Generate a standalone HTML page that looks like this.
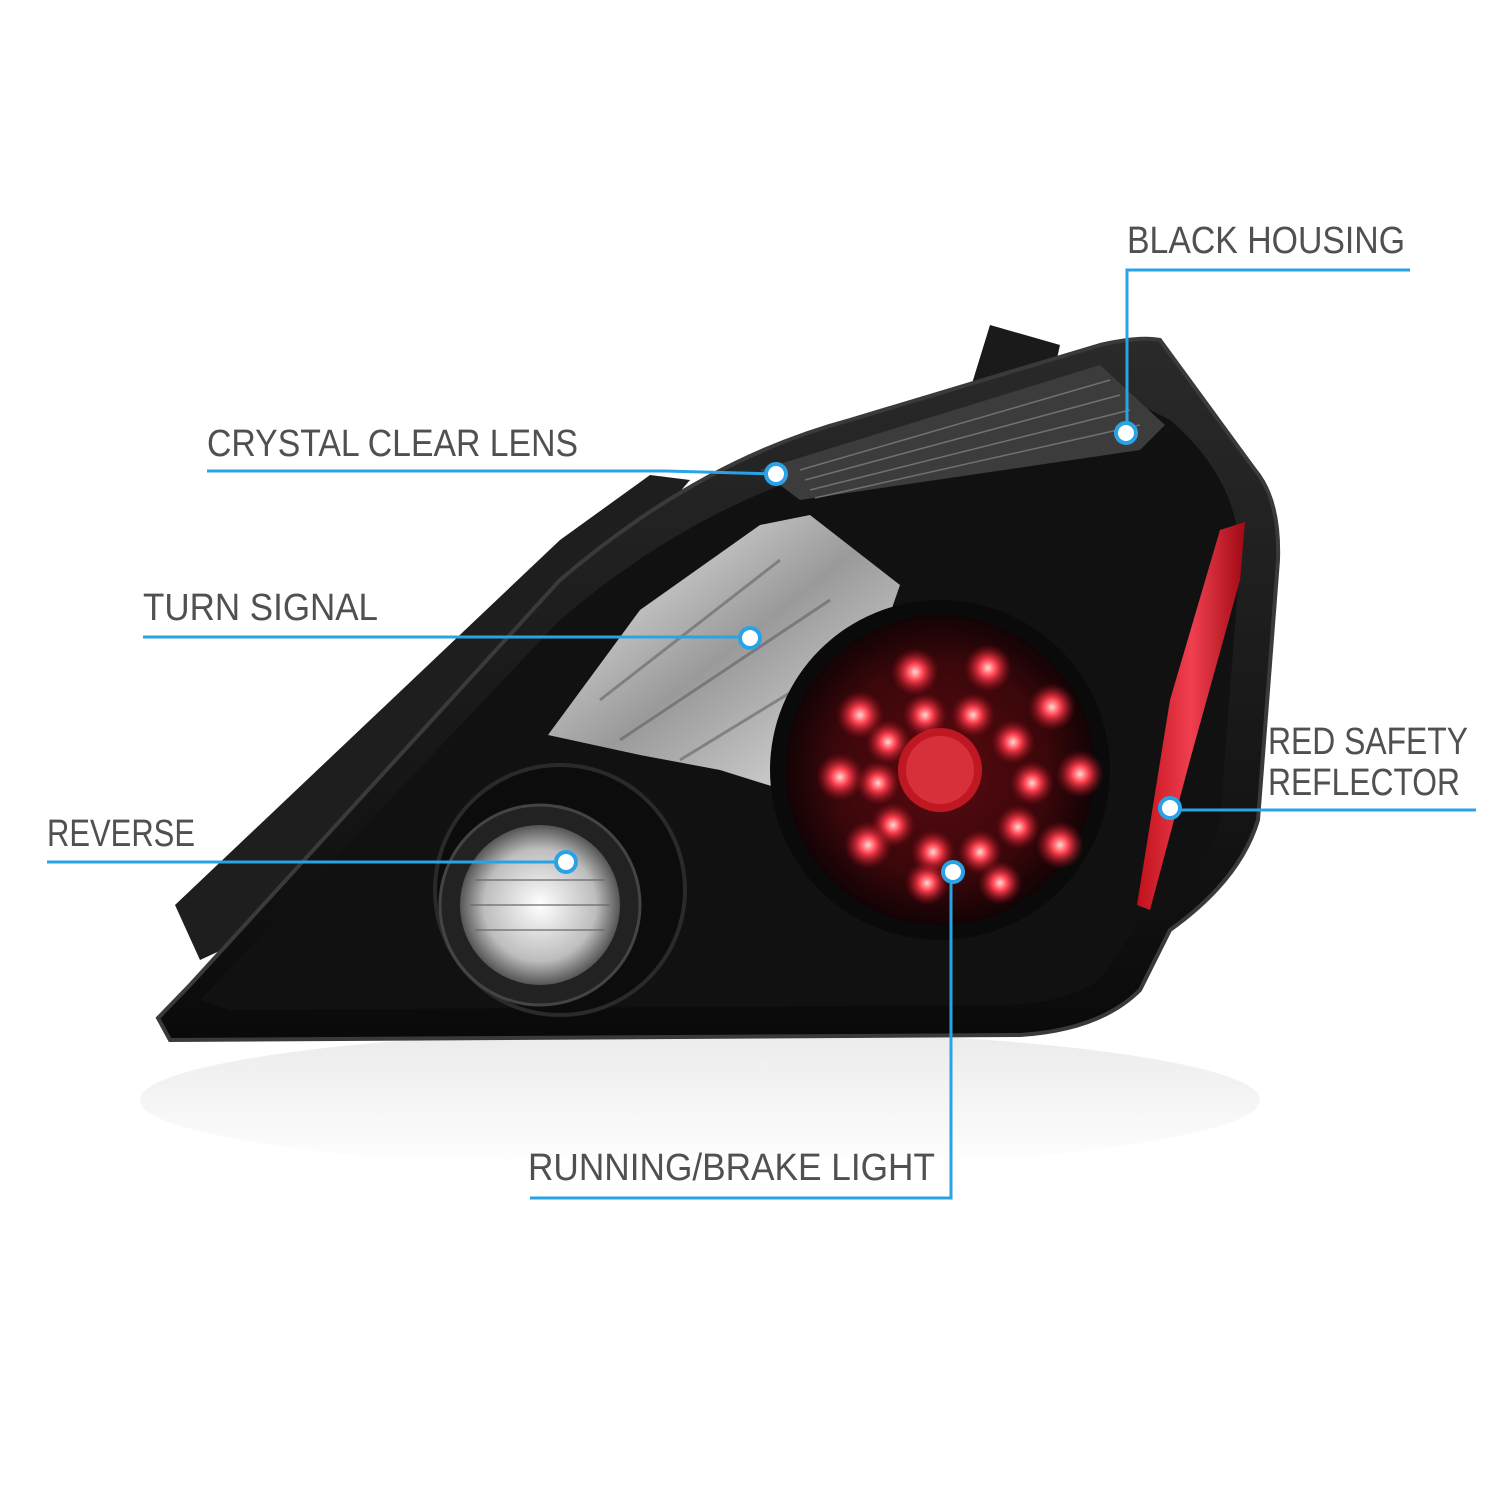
<!DOCTYPE html>
<html><head><meta charset="utf-8"><style>
html,body{margin:0;padding:0;background:#fff;}
svg{display:block;}
text{font-family:"Liberation Sans",sans-serif;fill:#505050;font-size:38px;}
</style></head><body>
<svg width="1500" height="1500" viewBox="0 0 1500 1500" xmlns="http://www.w3.org/2000/svg">
<defs>
<radialGradient id="red" cx="0.5" cy="0.5" r="0.5">
<stop offset="0" stop-color="#5a0a10"/><stop offset="0.7" stop-color="#3a070a"/><stop offset="1" stop-color="#120305"/>
</radialGradient>
<radialGradient id="led" cx="0.5" cy="0.5" r="0.5">
<stop offset="0" stop-color="#ffd8d0"/><stop offset="0.35" stop-color="#ff4050"/><stop offset="1" stop-color="#9a0a18" stop-opacity="0"/>
</radialGradient>
<linearGradient id="body" x1="0" y1="0" x2="0" y2="1">
<stop offset="0" stop-color="#2a2a2a"/><stop offset="1" stop-color="#0a0a0a"/>
</linearGradient>
<linearGradient id="clear" x1="0" y1="0" x2="1" y2="1">
<stop offset="0" stop-color="#f4f4f4"/><stop offset="0.5" stop-color="#9a9a9a"/><stop offset="1" stop-color="#e8e8e8"/>
</linearGradient>
<radialGradient id="rev" cx="0.5" cy="0.5" r="0.5">
<stop offset="0" stop-color="#ffffff"/><stop offset="0.7" stop-color="#bdbdbd"/><stop offset="1" stop-color="#555"/>
</radialGradient>
<linearGradient id="refl" x1="0" y1="0" x2="1" y2="0">
<stop offset="0" stop-color="#c0101a"/><stop offset="0.5" stop-color="#f04050"/><stop offset="1" stop-color="#a00a14"/>
</linearGradient>
<linearGradient id="shadow" x1="0" y1="0" x2="0" y2="1">
<stop offset="0" stop-color="#ddd"/><stop offset="1" stop-color="#fff"/>
</linearGradient>
</defs>

<!-- reflection/shadow -->
<ellipse cx="700" cy="1100" rx="560" ry="70" fill="url(#shadow)" opacity="0.6"/>

<!-- top tab -->
<polygon points="970,390 990,325 1060,345 1050,390" fill="#1a1a1a"/>
<!-- left fin -->
<polygon points="175,905 560,540 650,475 690,480 330,900 200,960" fill="#1e1e1e"/>

<!-- main body -->
<path d="M158,1018 L190,985 L560,580 Q700,460 850,420 L1100,345 Q1140,336 1160,340 L1255,470 Q1280,500 1278,560 L1258,820 Q1240,880 1170,930 L1140,990 Q1100,1030 1020,1035 L170,1040 Z" fill="url(#body)" stroke="#3a3a3a" stroke-width="4"/>
<!-- inner face -->
<path d="M200,1000 L560,620 Q700,500 860,460 L1110,390 L1170,420 Q1240,480 1240,560 L1220,820 Q1200,900 1140,920 L1100,980 Q1060,1005 1000,1005 L230,1010 Z" fill="#111"/>
<!-- top ribbed strip -->
<polygon points="760,470 1100,365 1165,425 1140,450 800,500" fill="#3c3c3c"/>
<g stroke="#888" stroke-width="1.5" opacity="0.7">
<line x1="800" y1="470" x2="1110" y2="380"/><line x1="805" y1="480" x2="1120" y2="395"/><line x1="810" y1="490" x2="1130" y2="410"/><line x1="815" y1="498" x2="1140" y2="425"/>
</g>

<!-- turn signal clear -->
<polygon points="548,735 640,610 760,525 810,515 900,585 860,700 800,795 720,770 640,755" fill="url(#clear)"/>
<g stroke="#555" stroke-width="3" opacity="0.5">
<line x1="600" y1="700" x2="780" y2="560"/><line x1="620" y1="740" x2="830" y2="600"/><line x1="680" y1="760" x2="860" y2="650"/>
</g>

<!-- reverse housing -->
<circle cx="560" cy="890" r="125" fill="#0c0c0c" stroke="#2a2a2a" stroke-width="4"/>
<circle cx="540" cy="905" r="100" fill="#222" stroke="#444" stroke-width="3"/>
<circle cx="540" cy="905" r="80" fill="url(#rev)"/>
<g stroke="#666" stroke-width="2" opacity="0.6">
<line x1="475" y1="880" x2="605" y2="880"/><line x1="470" y1="905" x2="610" y2="905"/><line x1="475" y1="930" x2="605" y2="930"/>
</g>

<!-- red LED circle -->
<circle cx="940" cy="770" r="170" fill="#0a0a0a"/>
<circle cx="940" cy="770" r="155" fill="url(#red)"/>
<circle cx="940" cy="770" r="42" fill="#c01822"/>
<circle cx="940" cy="770" r="34" fill="#d8303a"/>
<g fill="url(#led)">
<circle cx="915" cy="672" r="24"/><circle cx="988" cy="668" r="24"/><circle cx="860" cy="715" r="24"/><circle cx="925" cy="715" r="22"/><circle cx="973" cy="715" r="22"/><circle cx="1052" cy="707" r="24"/>
<circle cx="888" cy="742" r="22"/><circle cx="1013" cy="742" r="22"/><circle cx="840" cy="777" r="24"/><circle cx="878" cy="783" r="22"/><circle cx="1032" cy="783" r="22"/><circle cx="1080" cy="774" r="24"/>
<circle cx="893" cy="825" r="22"/><circle cx="1018" cy="827" r="22"/><circle cx="868" cy="845" r="24"/><circle cx="1060" cy="845" r="24"/><circle cx="933" cy="852" r="22"/><circle cx="980" cy="852" r="22"/><circle cx="927" cy="883" r="22"/><circle cx="1000" cy="883" r="22"/>
</g>

<!-- red reflector -->
<polygon points="1137,905 1170,700 1220,530 1245,522 1240,580 1190,760 1150,910" fill="url(#refl)"/>

<!-- callouts -->
<g stroke="#2aa3e6" stroke-width="3" fill="none">
<polyline points="1410,270 1127,270 1127,433"/>
<polyline points="207,471 665,471 776,474"/>
<polyline points="143,637 750,637"/>
<polyline points="47,862 566,862"/>
<polyline points="1476,810 1170,810"/>
<polyline points="530,1198 951,1198 951,872"/>
</g>
<g fill="#fff" stroke="#2aa3e6" stroke-width="4">
<circle cx="1126" cy="433" r="10"/>
<circle cx="776" cy="474" r="10"/>
<circle cx="750" cy="638" r="10"/>
<circle cx="566" cy="862" r="10"/>
<circle cx="1170" cy="808" r="10"/>
<circle cx="953" cy="872" r="10"/>
</g>

<text x="1127" y="253" textLength="278" lengthAdjust="spacingAndGlyphs">BLACK HOUSING</text>
<text x="207" y="456" textLength="371" lengthAdjust="spacingAndGlyphs">CRYSTAL CLEAR LENS</text>
<text x="143" y="620" textLength="235" lengthAdjust="spacingAndGlyphs">TURN SIGNAL</text>
<text x="47" y="846" textLength="148" lengthAdjust="spacingAndGlyphs">REVERSE</text>
<text x="1268" y="754" textLength="200" lengthAdjust="spacingAndGlyphs">RED SAFETY</text>
<text x="1268" y="795" textLength="192" lengthAdjust="spacingAndGlyphs">REFLECTOR</text>
<text x="528" y="1180" textLength="407" lengthAdjust="spacingAndGlyphs">RUNNING/BRAKE LIGHT</text>
</svg>
</body></html>
